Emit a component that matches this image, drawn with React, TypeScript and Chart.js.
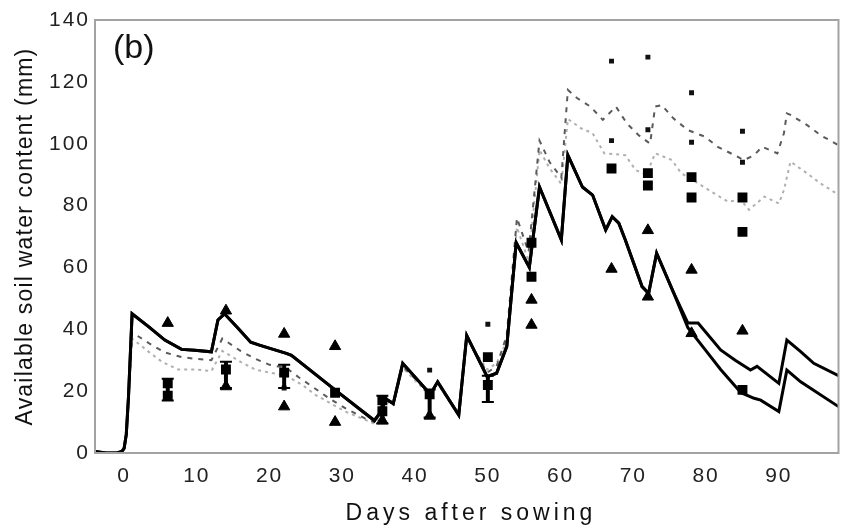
import { useEffect, useRef } from "react";
import { Chart, registerables } from "chart.js";

Chart.register(...registerables);

// Simulated available soil water (mm) against days after sowing.
// Two solid runs that split late in the season.
const solidDaysA = [-4, -2.5, -1, -0.3, 0, 0.3, 0.6, 1.1, 3.4, 5.6, 7.9, 9.7, 12, 12.9, 13.8, 15.6, 17.4, 18.6, 20.5, 22.3, 23, 29, 34.4, 35.2, 36, 37, 38.3, 42.1, 43.1, 46, 47.1, 49.9, 51.2, 52.6, 53.9, 55.7, 57.1, 60.1, 61, 63, 64.4, 66.2, 67.1, 68, 68.9, 71.2, 72.1, 73.2, 75.5, 77.5, 78.9, 82, 84, 86.1, 87, 90, 91.1, 93, 94.8, 98.2];
const solidValuesA = [0.5, 0, 0, 0.5, 1.5, 6, 18, 45, 40.8, 36.5, 33.5, 33.2, 32.7, 43, 45, 40.5, 35.8, 34.9, 33.5, 32.2, 31.6, 20.4, 10.5, 13, 17.5, 16, 29, 19, 23, 12.3, 38, 24.7, 25.8, 34.4, 68, 60, 86, 68.9, 96.3, 86, 83.4, 72.1, 76.4, 74.3, 68.9, 53.8, 51.6, 64.6, 52, 42, 42, 33.3, 30, 26.8, 28, 22.5, 36.5, 32.8, 29, 25];

const solidDaysB = [-4, -2.5, -1, -0.3, 0, 0.3, 0.6, 1.1, 3.4, 5.6, 7.9, 9.7, 12, 12.9, 13.8, 15.6, 17.4, 18.6, 20.5, 22.3, 23, 29, 34.4, 35.2, 36, 37, 38.3, 42.1, 43.1, 46, 47.1, 49.9, 51.2, 52.6, 53.9, 55.7, 57.1, 60.1, 61, 63, 64.4, 66.2, 67.1, 68, 68.9, 71.2, 72.1, 73.2, 75.5, 77.5, 80, 82, 84.8, 86.6, 87.5, 90, 91.1, 93, 98.2];
const solidValuesB = [0.5, 0, 0, 0.5, 1.5, 6, 18, 45, 40.8, 36.5, 33.5, 33.2, 32.7, 43, 45, 40.5, 35.8, 34.9, 33.5, 32.2, 31.6, 20.4, 10.5, 13, 17.5, 16, 29, 19, 23, 12.3, 38, 24.7, 25.8, 34.4, 68, 60, 86, 68.9, 96.3, 86, 83.4, 72.1, 76.4, 74.3, 68.9, 53.8, 51.6, 64.6, 52, 40.5, 33, 27, 19.5, 17.7, 17.1, 13.4, 26.8, 23, 15];

const dashedDays = [-4, -2.5, -1, -0.3, 0, 0.3, 0.6, 1.1, 3.4, 5.6, 7.9, 9.7, 12, 13.5, 16, 18, 20, 22.3, 24, 28.3, 30.4, 33.1, 34.4, 35.2, 36, 37, 38.3, 42.1, 43.1, 46, 47.1, 49.9, 51.2, 52.6, 54, 55.6, 57.1, 58.5, 60.1, 61, 62.3, 64.1, 65.8, 67.6, 69.1, 70.7, 72.3, 73, 73.9, 75.5, 77.5, 79.8, 81.6, 83.9, 85.2, 86.6, 87.7, 89.8, 90.7, 91.1, 91.6, 93.9, 95.7, 98.2];
const dashedValues = [0.5, 0, 0, 0.5, 1.5, 6, 18, 39, 35.5, 32.5, 31, 30.5, 30, 37, 33, 30.5, 28.5, 27.5, 24.5, 17.5, 14.5, 11.2, 10, 12.5, 17, 16, 28, 19, 23, 12.5, 37.5, 26, 28, 38, 76, 65, 101, 94, 89, 117.4, 114.7, 112, 107.7, 112, 106.6, 102.8, 100, 112, 112.5, 108.2, 104.4, 102.3, 99, 96.3, 94.7, 96.3, 99, 96.9, 103.4, 109.8, 109.3, 106, 102.8, 99.5];

const dottedDays = [-4, -2.5, -1, -0.3, 0, 0.3, 0.6, 1.1, 3.4, 5.2, 7.4, 9.7, 12, 13.5, 16, 18, 20, 22.3, 24.5, 26.3, 30.4, 34.4, 35.2, 36, 37, 38.3, 42.1, 43.1, 46, 47.1, 49.9, 51.2, 52.6, 54, 55.6, 57.1, 58.5, 60.1, 61, 62.8, 64.4, 66, 68.9, 70.3, 71.8, 73, 75.3, 76.6, 78.9, 80.7, 83, 84.8, 85.9, 88, 90, 90.7, 91.6, 93.9, 95.7, 98.2];
const dottedValues = [0.5, 0, 0, 0.5, 1.5, 6, 18, 37, 32.7, 29.5, 27, 27, 26.5, 33, 29.5, 27, 26, 25, 22, 18.8, 13.4, 9.5, 12, 16.5, 15.5, 27.5, 18.5, 22.5, 12, 37, 27, 29, 36, 73, 62, 98, 92, 87, 108, 105, 103.4, 96.9, 96.3, 91.5, 90, 96.9, 94.7, 90.4, 87.2, 84.5, 81.3, 81.8, 78.6, 82.9, 80.7, 85, 94.2, 90.4, 87.2, 83.5];

// Measured soil water
const triangleDays = [6, 14, 14, 22, 22, 29, 29, 35.5, 42, 56, 56, 67, 72, 72, 78, 78, 85];
const triangleValues = [42, 46, 21.5, 38.5, 15, 34.5, 10, 10.5, 12, 49.5, 41.4, 59.5, 72, 50.5, 59.2, 38.7, 39.5];

const squareDays = [6, 6, 14, 22, 29, 35.5, 35.5, 42, 50, 50, 56, 56, 67, 72, 72, 78, 78, 85, 85, 85];
const squareValues = [22.5, 18.5, 27, 26, 19.5, 17, 13.5, 19, 31, 22, 68, 57, 92, 90.5, 86.5, 89.2, 82.6, 82.6, 71.5, 20.4];

const dotDays = [22, 42, 50, 67, 67, 72, 72, 78, 78, 85, 85];
const dotValues = [21, 26.8, 41.6, 126.7, 101, 128, 104.5, 116.5, 100.5, 104, 94];

const errDays = [6, 14, 22, 35.5, 42, 50];
const errLow = [17, 21, 21, 9.5, 11.5, 16.5];
const errHigh = [24, 29.5, 28.5, 18.5, 20.5, 25];

const xTickValues = [0, 10, 20, 30, 40, 50, 60, 70, 80, 90];
const yTickValues = [0, 20, 40, 60, 80, 100, 120, 140];

const xTitle = "Days after sowing";
const yTitle = "Available soil water content (mm)";
const panelTag = "(b)";

const FONT = '"Liberation Sans", Arial, Helvetica, sans-serif';

const pts = (days: number[], vals: number[]) => days.map((d, i) => ({ x: d, y: vals[i] }));

const textSpacing = {
  id: "textSpacing",
  beforeDraw(chart: any) {
    chart.ctx.letterSpacing = "2px";
  },
};

const frame = {
  id: "frame",
  afterDatasetsDraw(chart: any) {
    const { ctx, chartArea: a } = chart;
    ctx.save();
    ctx.strokeStyle = "#a3a3a3";
    ctx.lineWidth = 2;
    ctx.strokeRect(a.left, a.top, a.right - a.left, a.bottom - a.top);
    ctx.restore();
  },
};

const errorBars = {
  id: "errorBars",
  afterDatasetsDraw(chart: any) {
    const { ctx, scales } = chart;
    ctx.save();
    ctx.strokeStyle = "#000";
    errDays.forEach((d, i) => {
      const x = scales.x.getPixelForValue(d);
      const y1 = scales.y.getPixelForValue(errLow[i]);
      const y2 = scales.y.getPixelForValue(errHigh[i]);
      ctx.lineWidth = 4;
      ctx.beginPath();
      ctx.moveTo(x, y1);
      ctx.lineTo(x, y2);
      ctx.stroke();
      ctx.lineWidth = 2;
      ctx.beginPath();
      ctx.moveTo(x - 6, y1);
      ctx.lineTo(x + 6, y1);
      ctx.moveTo(x - 6, y2);
      ctx.lineTo(x + 6, y2);
      ctx.stroke();
    });
    ctx.restore();
  },
};

const titles = {
  id: "titles",
  afterDraw(chart: any) {
    const { ctx, chartArea: a } = chart;
    ctx.save();
    ctx.fillStyle = "#111";
    ctx.font = `23px ${FONT}`;
    ctx.letterSpacing = "4px";
    ctx.textAlign = "center";
    ctx.textBaseline = "alphabetic";
    ctx.fillText(xTitle, 471, 520);
    ctx.restore();

    ctx.save();
    ctx.fillStyle = "#111";
    ctx.font = `23px ${FONT}`;
    ctx.letterSpacing = "1.2px";
    ctx.textAlign = "center";
    ctx.textBaseline = "alphabetic";
    ctx.translate(32, (a.top + a.bottom) / 2);
    ctx.rotate(-Math.PI / 2);
    ctx.fillText(yTitle, 0, 0);
    ctx.restore();

    ctx.save();
    ctx.fillStyle = "#111";
    ctx.font = `34px ${FONT}`;
    ctx.letterSpacing = "0px";
    ctx.textAlign = "left";
    ctx.textBaseline = "alphabetic";
    ctx.fillText(panelTag, 113, 58);
    ctx.restore();
  },
};

export default function App() {
  const ref = useRef<HTMLCanvasElement>(null);

  useEffect(() => {
    const lineBase = { type: "line" as const, pointRadius: 0, fill: false, tension: 0 };
    const chart = new Chart(ref.current!, {
      type: "line",
      data: {
        datasets: [
          {
            type: "scatter",
            data: pts(triangleDays, triangleValues),
            pointStyle: "triangle",
            pointRadius: 6.5,
            backgroundColor: "#000",
            borderColor: "#000",
            borderWidth: 1,
            order: 0,
          },
          {
            type: "scatter",
            data: pts(squareDays, squareValues),
            pointStyle: "rect",
            pointRadius: 7,
            backgroundColor: "#000",
            borderColor: "#000",
            borderWidth: 0,
            order: 0,
          },
          {
            type: "scatter",
            data: pts(dotDays, dotValues),
            pointStyle: "rect",
            pointRadius: 3.5,
            backgroundColor: "#111",
            borderColor: "#111",
            borderWidth: 0,
            order: 0,
          },
          {
            ...lineBase,
            data: pts(solidDaysA, solidValuesA),
            borderColor: "#000",
            borderWidth: 3,
            order: 1,
          },
          {
            ...lineBase,
            data: pts(solidDaysB, solidValuesB),
            borderColor: "#000",
            borderWidth: 3,
            order: 1,
          },
          {
            ...lineBase,
            data: pts(dashedDays, dashedValues),
            borderColor: "#5a5a5a",
            borderWidth: 2,
            borderDash: [5, 6],
            order: 2,
          },
          {
            ...lineBase,
            data: pts(dottedDays, dottedValues),
            borderColor: "#b0b0b0",
            borderWidth: 2,
            borderDash: [3, 4],
            order: 3,
          },
        ],
      },
      options: {
        animation: false,
        responsive: true,
        maintainAspectRatio: false,
        layout: { padding: { top: 20, right: 1, left: 0, bottom: 0 } },
        plugins: { legend: { display: false }, tooltip: { enabled: false } },
        scales: {
          x: {
            type: "linear",
            min: -4,
            max: 98.2,
            grid: { display: false, drawTicks: false },
            border: { display: false },
            afterBuildTicks: (s: any) => {
              s.ticks = xTickValues.map((v) => ({ value: v }));
            },
            afterFit: (s: any) => {
              s.height = 75;
            },
            ticks: {
              font: { family: FONT, size: 21 },
              color: "#222",
              padding: 11,
              maxRotation: 0,
              autoSkip: false,
            },
          },
          y: {
            type: "linear",
            min: 0,
            max: 140,
            grid: { display: false, drawTicks: false },
            border: { display: false },
            afterBuildTicks: (s: any) => {
              s.ticks = yTickValues.map((v) => ({ value: v }));
            },
            afterFit: (s: any) => {
              s.width = 95;
            },
            ticks: {
              font: { family: FONT, size: 21 },
              color: "#222",
              padding: 5,
              autoSkip: false,
            },
          },
        },
      },
      plugins: [textSpacing, frame, errorBars, titles],
    });
    return () => chart.destroy();
  }, []);

  return (
    <div style={{ position: "fixed", left: 0, top: 0, width: 846, height: 528, background: "#fff" }}>
      <canvas ref={ref} />
    </div>
  );
}
